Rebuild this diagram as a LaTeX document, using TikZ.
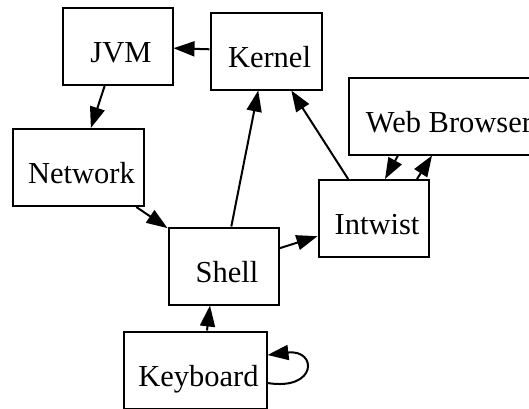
\documentclass[tikz,border=0pt]{standalone}
\usepackage{fontspec}
\setmainfont{Liberation Serif}
\usetikzlibrary{arrows.meta,calc}

\tikzset{
  box/.style={draw, rectangle, line width=2pt, inner sep=0pt,
    minimum height=77pt, text height=32pt, text depth=0pt,
    font=\fontsize{30.5}{36}\selectfont,
    execute at begin node=\hspace*{7pt}},
  arr/.style={line width=2pt, -{Triangle[length=21pt,width=15pt]}}
}

\begin{document}
\begin{tikzpicture}[x=1pt,y=-1pt]
  \useasboundingbox (0,0) rectangle (529,408);
  \clip (0,0) rectangle (529,408);

  % processes
  \node[box, minimum width=110pt] (jvm)     at (117.5,46.5) {JVM};
  \node[box, minimum width=111pt] (kernel)  at (266,51)     {Kernel};
  \node[box, minimum width=131pt] (network) at (78,167.5)   {Network};
  \node[box, minimum width=194pt] (web)     at (445.5,116)  {Web Browser};
  \node[box, minimum width=110pt] (intwist) at (373.5,218.5){Intwist};
  \node[box, minimum width=110pt] (shell)   at (223.5,266)  {Shell};
  \node[box, minimum width=143pt] (kbd)     at (195,370)    {Keyboard};

  % data flow
  \draw[arr] (kernel) -- (jvm);
  \draw[arr] (jvm) -- (network);
  \draw[arr] (network) -- (shell);
  \draw[arr] (shell) -- (kernel);
  \draw[arr] (intwist) -- (kernel);
  \draw[arr] (shell) -- (intwist);
  \draw[arr] ($(kbd.north)+(12,0)$) -- ($(shell.south)+(-13.5,0)$);
  \draw[arr] ($(web.south)+(-47.5,0)$) -- ($(intwist.north)+(11.5,0)$);
  \draw[arr] ($(intwist.north)+(43.5,0)$) -- ($(web.south)+(-13.5,0)$);
  \draw[arr] ($(kbd.east)+(0,13)$) .. controls +(50,8) and +(50,-6) .. ($(kbd.east)+(0,-15)$);
\end{tikzpicture}
\end{document}
